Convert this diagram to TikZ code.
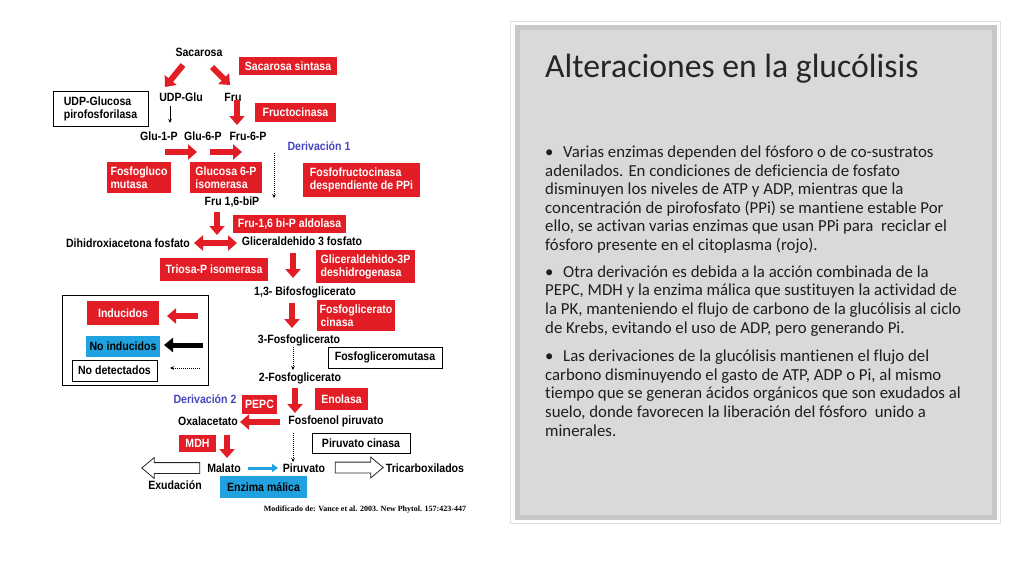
\documentclass[tikz,border=0pt]{standalone}
\usepackage{fontspec}
\setmainfont[Ligatures=NoCommon]{Carlito}
\newfontfamily\diagfont[FakeStretch=0.88]{Liberation Sans}
\newfontfamily\citefont{Liberation Serif}
\usetikzlibrary{arrows.meta,shapes.arrows,calc}

\definecolor{enzred}{HTML}{E31D25}
\definecolor{enzblue}{HTML}{1FA2DF}
\definecolor{derblue}{HTML}{4646C3}
\definecolor{panelfill}{HTML}{D9D9D9}
\definecolor{panelband}{HTML}{C8C8C8}
\definecolor{panelline}{HTML}{E0E0E0}
\definecolor{bodytext}{HTML}{1E1E1E}

\newcommand{\pbullet}{\makebox[18pt][l]{•}}

\begin{document}
\begin{tikzpicture}[
  x=1pt, y=-1pt,
  font=\diagfont\bfseries\fontsize{12}{13}\selectfont,
  met/.style    ={inner sep=1pt},
  enz/.style    ={rectangle, fill=enzred, text=white, inner xsep=3pt, inner ysep=2pt, align=left},
  enzw/.style   ={rectangle, draw=black, line width=.8pt, fill=white, align=left},
  enzb/.style   ={rectangle, fill=enzblue, text=black},
  der/.style    ={inner sep=1pt, text=derblue},
  redarr/.style ={draw=enzred, line width=6pt, -{Triangle[length=9pt,width=15pt]}},
  dblarr/.style ={draw=enzred, line width=6pt, {Triangle[length=9pt,width=15pt]}-{Triangle[length=9pt,width=15pt]}},
  blkarr/.style ={draw=black, line width=5pt, -{Triangle[length=9pt,width=14pt]}},
  bluarr/.style ={draw=enzblue, line width=3pt, -{Triangle[length=6pt,width=8pt]}},
  thinarr/.style={draw=black, line width=.6pt, -{Stealth[length=4pt,width=3.5pt]}},
  dotarr/.style ={draw=black, line width=.5pt, dash pattern=on 1.2pt off .8pt, -{Stealth[length=4pt,width=3.5pt]}},
  hollow/.style ={single arrow, draw=black!85, line width=.8pt, fill=white, inner xsep=0pt, inner ysep=5pt,
                  single arrow head extend=5pt, single arrow tip angle=80},
  ptext/.style  ={font=\normalfont\fontsize{16.8}{18.6}\selectfont, text=bodytext, align=left,
                  inner sep=0pt, anchor=base west}
]
\fill[white] (0,0) rectangle (1024,576);
\useasboundingbox (0,0) rectangle (1024,576);

% slide panel
\draw[panelline, line width=1pt] (510.5,21) rectangle (1000.5,523.5);
\draw[panelband, line width=5pt, fill=panelfill] (517.5,27.5) rectangle (994.5,517.5);

\node[ptext, font=\normalfont\fontsize{33.7}{38}\selectfont, text=black!85] (title) at (545,77) {Alteraciones en la glucólisis};

% multi-line nodes: base is the last line
\node[ptext] (par1) at (545,250.5) {\pbullet Varias enzimas dependen del fósforo o de co-sustratos\\
adenilados. En condiciones de deficiencia de fosfato\\
disminuyen los niveles de ATP y ADP, mientras que la\\
concentración de pirofosfato (PPi) se mantiene estable Por\\
ello, se activan varias enzimas que usan PPi para\ \ reciclar el\\
fósforo presente en el citoplasma (rojo).};

\node[ptext] (par2) at (545,333) {\pbullet Otra derivación es debida a la acción combinada de la\\
PEPC, MDH y la enzima málica que sustituyen la actividad de\\
la PK, manteniendo el flujo de carbono de la glucólisis al ciclo\\
de Krebs, evitando el uso de ADP, pero generando Pi.};

\node[ptext] (par3) at (545,436) {\pbullet Las derivaciones de la glucólisis mantienen el flujo del\\
carbono disminuyendo el gasto de ATP, ADP o Pi, al mismo\\
tiempo que se generan ácidos orgánicos que son exudados al\\
suelo, donde favorecen la liberación del fósforo\ \ unido a\\
minerales.};

% metabolites
\node[met] (sac)    at (199,52)  {Sacarosa};
\node[met] (udpglu) at (181,97)  {UDP-Glu};
\node[met] (fru)    at (233,97)  {Fru};
\node[met] (glu1p)  at (159,136) {Glu-1-P};
\node[met] (glu6p)  at (203,136) {Glu-6-P};
\node[met] (fru6p)  at (248,136) {Fru-6-P};
\node[met] (fru16)  at (232,202) {Fru 1,6-biP};
\node[met] (dhap)   at (128,243) {Dihidroxiacetona fosfato};
\node[met] (g3p)    at (302,241) {Gliceraldehido 3 fosfato};
\node[met] (bpg)    at (305,292) {1,3- Bifosfoglicerato};
\node[met] (pg3)    at (299,340) {3-Fosfoglicerato};
\node[met] (pg2)    at (300,378) {2-Fosfoglicerato};
\node[met] (pep)    at (336,421) {Fosfoenol piruvato};
\node[met] (oaa)    at (208,421) {Oxalacetato};
\node[met] (mal)    at (224,468) {Malato};
\node[met] (pir)    at (304,468) {Piruvato};
\node[met] (tca)    at (425,468) {Tricarboxilados};
\node[met] (exu)    at (175,485) {Exudación};

\node[der] (der1) at (319,146) {Derivación 1};
\node[der] (der2) at (205,399) {Derivación 2};

% enzymes
\node[enz, minimum width=98pt, minimum height=18pt]  (sacsint) at (288,66)    {Sacarosa sintasa};
\node[enzw, minimum width=95pt, minimum height=35pt] (udpgp)   at (100.5,108.5) {UDP-Glucosa\\pirofosforilasa};
\node[enz, minimum width=81pt, minimum height=19pt]  (fruct)   at (295.5,112.5) {Fructocinasa};
\node[enz, minimum width=64pt, minimum height=31pt]  (pgm)     at (139,177.5) {Fosfogluco\\mutasa};
\node[enz, minimum width=72pt, minimum height=31pt]  (gpi)     at (226,177.5) {Glucosa 6-P\\isomerasa};
\node[enz, minimum width=117pt, minimum height=34pt] (pfp)     at (361.5,180) {Fosfofructocinasa\\despendiente de PPi};
\node[enz, minimum width=113pt, minimum height=18pt] (ald)     at (289.5,224) {Fru-1,6 bi-P aldolasa};
\node[enz, minimum width=108pt, minimum height=23pt] (tpi)     at (214,269.5) {Triosa-P isomerasa};
\node[enz, minimum width=99pt, minimum height=33pt]  (gapdh)   at (365.5,266.5) {Gliceraldehido-3P\\deshidrogenasa};
\node[enz, minimum width=78pt, minimum height=31pt]  (pgk)     at (356,315.5) {Fosfoglicerato\\\hspace{1pt}cinasa};
\node[enzw, minimum width=114pt, minimum height=21pt] (pgmut)  at (385,357.5) {Fosfogliceromutasa};
\node[enz, minimum width=35pt, minimum height=19pt]  (pepc)    at (259.5,404.5) {PEPC};
\node[enz, minimum width=53pt, minimum height=22pt]  (eno)     at (341.5,399) {Enolasa};
\node[enz, minimum width=37pt, minimum height=17pt]  (mdh)     at (197.5,443.5) {MDH};
\node[enzw, minimum width=98pt, minimum height=20pt] (pk)      at (361,443) {Piruvato cinasa};
\node[enzb, minimum width=87pt, minimum height=22pt] (me)      at (263.5,487) {Enzima málica};

% legend
\node[draw=black, line width=.8pt, minimum width=146pt, minimum height=90pt] (legbox) at (135,340) {};
\node[enz, minimum width=72pt, minimum height=24pt]   (ind)   at (123,313) {Inducidos};
\node[enzb, minimum width=72pt, minimum height=21pt]  (noind) at (123,346.5) {No inducidos};
\node[enzw, minimum width=85pt, minimum height=21pt]  (nodet) at (114.5,370.5) {No detectados};

\draw[redarr]  ($(ind)+(75,3)$)       -- ($(ind)+(44,3)$);
\draw[blkarr]  ($(noind)+(80,-1.5)$)  -- ($(noind)+(41,-1.5)$);
\draw[dotarr]  ($(nodet)+(85.5,-2.5)$) -- ($(nodet)+(55.5,-2.5)$);

% pathway arrows
\draw[redarr]  ($(sac)+(-16,13)$)  -- ($(udpglu)+(-16,-10)$);
\draw[redarr]  ($(sac)+(13,15)$)   -- ($(fru)+(-3,-12)$);
\draw[thinarr] ($(udpglu)+(-11,9)$) -- ($(glu1p)+(11,-13)$);
\draw[redarr]  ($(fru)+(4,3)$)     -- ($(fru6p)+(-11,-11)$);
\draw[redarr]  ($(glu1p)+(6,16)$)  -- ($(glu6p)+(-6,16)$);
\draw[redarr]  ($(glu6p)+(7,16)$)  -- ($(fru6p)+(-6,16)$);
\draw[dotarr]  ($(fru6p)+(26,17)$) -- ($(fru16)+(42,-4)$);
\draw[redarr]  ($(fru16)+(-15,10)$) -- ($(dhap)!.5!(g3p)+(2,-7)$);
\draw[dblarr]  ($(dhap)+(66,0)$)   -- ($(g3p)+(-65,2)$);
\draw[redarr]  ($(g3p)+(-9,12)$)   -- ($(bpg)+(-12,-14)$);
\draw[redarr]  ($(bpg)+(-13,11)$)  -- ($(pg3)+(-7,-12)$);
\draw[dotarr]  ($(pg3)+(-6,7)$)    -- ($(pg2)+(-7,-8)$);
\draw[redarr]  ($(pg2)+(-5,10)$)   -- ($(pep)+(-41,-8)$);
\draw[redarr]  ($(pep)+(-56,1)$)   -- ($(oaa)+(32,1)$);
\draw[redarr]  ($(oaa)+(19,14)$)   -- ($(mal)+(3,-10)$);
\draw[dotarr]  ($(pep)+(-43,12)$)  -- ($(pir)+(-11,-6)$);
\draw[bluarr]  ($(mal)+(24,0)$)    -- ($(pir)+(-26,0)$);

\node[hollow, minimum height=58pt, shape border rotate=180] (exuarr) at (174,468) {};
\node[hollow, minimum height=48pt] (tcaarr) at (356,467.5) {};

\node[font=\citefont\bfseries\fontsize{8}{9}\selectfont, inner sep=0pt] (cite) at (365,510)
  {Modificado de: Vance et al. 2003. New Phytol. 157:423-447};
\end{tikzpicture}
\end{document}
